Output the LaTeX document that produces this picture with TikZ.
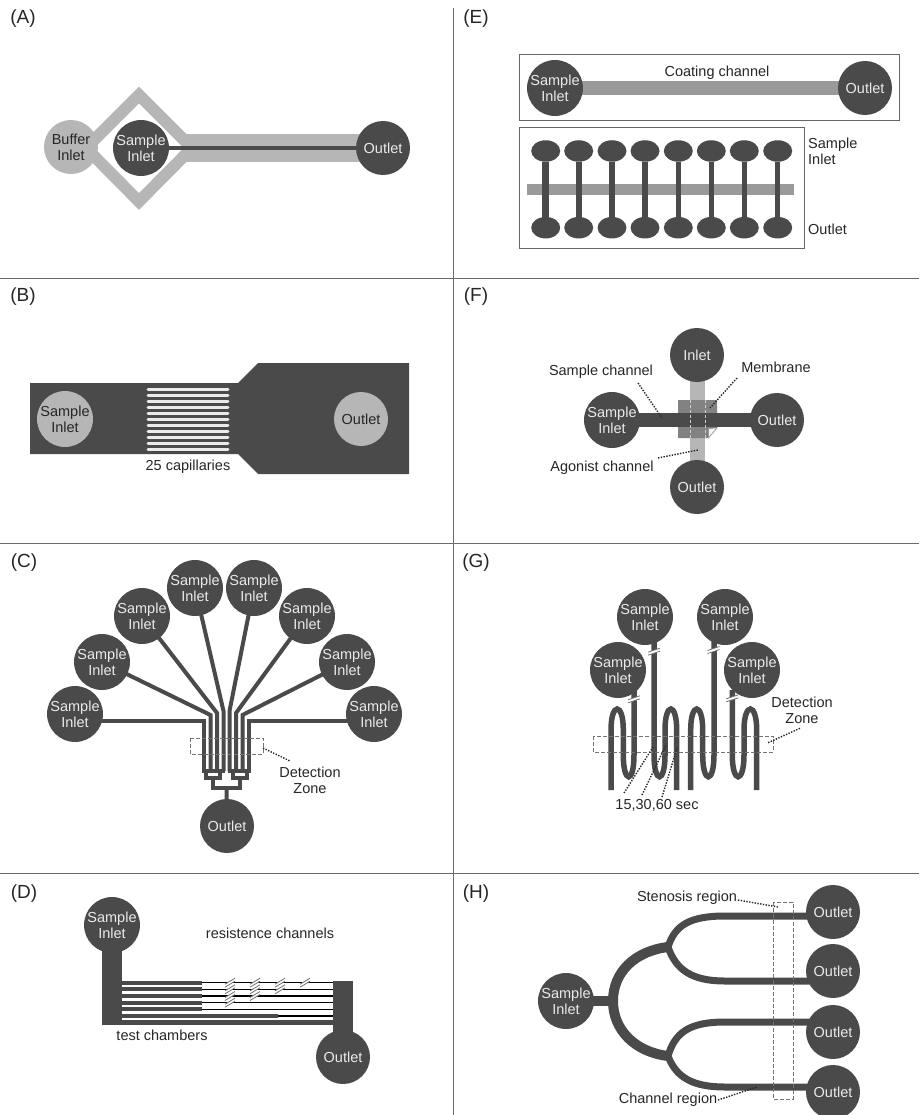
\documentclass[tikz,border=0pt]{standalone}
\usepackage{fontspec}
\setmainfont{Liberation Sans}
\usetikzlibrary{backgrounds,shapes.geometric}
\definecolor{chipdark}{HTML}{4A4A4A}
\definecolor{chiplight}{HTML}{B6B6B6}
\definecolor{chipmid}{HTML}{9A9A9A}
\definecolor{chipmemb}{HTML}{828282}
\definecolor{chiptext}{HTML}{EAEAEA}
\definecolor{rulegray}{HTML}{6A6A6A}
\tikzset{
  lab/.style={font=\fontsize{14.5}{16}\selectfont,text=black!85,align=center,inner sep=0pt},
  panel/.style={font=\fontsize{19}{21}\selectfont,text=black!85,inner sep=0pt},
  port/.style={circle,fill=chipdark,minimum size=54pt,inner sep=0pt,align=center,
    font=\fontsize{14.5}{16}\selectfont,text=chiptext},
  portlight/.style={port,fill=chiplight,text=black!85},
  bulb/.style={ellipse,fill=chipdark,minimum width=29pt,minimum height=21.5pt,inner sep=0pt},
  chan/.style={draw=chipdark,line width=#1},
  chan/.default=4pt,
  serp/.style={draw=chipdark,line width=5.5pt},
  band/.style={draw=#1,line width=14pt},
  zone/.style={draw=black!55,dashed,line width=.7pt,dash pattern=on 4pt off 2pt},
  leader/.style={draw=black!85,line width=1.4pt,dash pattern=on 1.4pt off 1.4pt},
  sep/.style={draw=rulegray,line width=.7pt},
  box/.style={draw=black!60,line width=.9pt},
  brk/.pic={
    \fill[white] (-5,1.5) -- (5,-4.5) -- (5,-1.5) -- (-5,4.5) -- cycle;
    \draw[black!55,line width=.8pt] (-5,1.5) -- (5,-4.5) (-5,4.5) -- (5,-1.5);
  },
  brkup/.pic={
    \fill[white] (-6,.5) -- (6,-3.5) -- (6,-.5) -- (-6,3.5) -- cycle;
    \draw[black!55,line width=.8pt] (-6,.5) -- (6,-3.5) (-6,3.5) -- (6,-.5);
  },
}
\begin{document}
\begin{tikzpicture}[x=1pt,y=-1pt]
\useasboundingbox (0,0) rectangle (919,1115);

\coordinate (ruleT) at (453,8);
\coordinate (ruleB) at (453,1115);
\foreach \y in {278,543,873} {
  \coordinate (ruleL) at (0,\y);
  \coordinate (ruleR) at (919,\y);
  \path[sep] (ruleL) edge (ruleR);
}
\path[sep] (ruleT) edge (ruleB);

\node[panel] (panA) at (23,19)  {(A)};
\node[panel] (panB) at (23,297) {(B)};
\node[panel] (panC) at (24,563) {(C)};
\node[panel] (panD) at (24,894) {(D)};
\node[panel] (panE) at (476,19)  {(E)};
\node[panel] (panF) at (476,297) {(F)};
\node[panel] (panG) at (476,563) {(G)};
\node[panel] (panH) at (476,894) {(H)};

% A
\node[portlight] (aBuf) at (71,147)  {Buffer\\Inlet};
\node[port]      (aSam) at (141,148) {Sample\\Inlet};
\node[port]      (aOut) at (383,148) {Outlet};
\coordinate (aTop) at (139,95);
\coordinate (aRig) at (192,148);
\coordinate (aBot) at (139,201.5);
\coordinate (aLef) at (86,148);
\coordinate (aJoin) at (186,148);
\begin{scope}[on background layer]
  \draw[draw=chiplight,line width=11.8pt] (aTop) -- (aRig) -- (aBot) -- (aLef) -- cycle;
  \path[band=chiplight,line width=28pt] (aJoin) edge (aOut.center);
  \path[chan=4.2pt] (aSam.center) edge (aOut.center);
\end{scope}

% B
\fill[chipdark] (30,383) -- (238,383) -- (258,363) -- (409,363) -- (409,474)
  -- (258,474) -- (238,454) -- (30,454) -- cycle;
\foreach \n in {0,...,10} {
  \draw[draw=black!8,line width=3pt,line cap=round] (148,389+6.07*\n) -- (228,389+6.07*\n);
}
\node[portlight] (bSam) at (65,419)  {Sample\\Inlet};
\node[portlight] (bOut) at (361,419) {Outlet};
\node[lab] (bCap) at (188,467) {25 capillaries};

% C
\node[port] (c1) at (75,714)  {Sample\\Inlet};
\node[port] (c2) at (102,662) {Sample\\Inlet};
\node[port] (c3) at (142,616) {Sample\\Inlet};
\node[port] (c4) at (195,588) {Sample\\Inlet};
\node[port] (c5) at (254,588) {Sample\\Inlet};
\node[port] (c6) at (307,616) {Sample\\Inlet};
\node[port] (c7) at (347,662) {Sample\\Inlet};
\node[port] (c8) at (374,714) {Sample\\Inlet};
\node[port] (cOut) at (227,826) {Outlet};
\node[lab] (cDet) at (310,780) {Detection\\Zone};
\begin{scope}[on background layer]
  \draw[chan] (c1.center) -- (75,721) -- (204,721) -- (204,771);
  \draw[chan] (c2.center) -- (210.5,715) -- (210.5,771);
  \draw[chan] (c3.center) -- (217,713) -- (217,771);
  \draw[chan] (c4.center) -- (223.5,711) -- (223.5,771);
  \draw[chan] (c5.center) -- (229.5,711) -- (229.5,771);
  \draw[chan] (c6.center) -- (236,713) -- (236,771);
  \draw[chan] (c7.center) -- (242.5,715) -- (242.5,771);
  \draw[chan] (c8.center) -- (374,721) -- (249,721) -- (249,771);
  \draw[chan] (202,771) -- (225,771);
  \draw[chan] (228,771) -- (251,771);
  \draw[chan] (206,771) -- (206,778) -- (220,778) -- (220,771);
  \draw[chan] (233,771) -- (233,778) -- (247,778) -- (247,771);
  \draw[chan] (213,778) -- (213,788) -- (240,788) -- (240,778);
  \path[chan] (226.5,788) edge (cOut.center);
\end{scope}
\draw[zone] (190,738) rectangle (263,754);
\coordinate (cLa) at (263,748);
\coordinate (cLb) at (290,761);
\path[leader] (cLa) edge (cLb);

% D
\node[port] (dSam) at (112,925)  {Sample\\Inlet};
\node[port] (dOut) at (343,1057) {Outlet};
\node[lab] (dRes) at (270,933)  {resistence channels};
\node[lab] (dTes) at (162,1035) {test chambers};
\begin{scope}[on background layer]
  \fill[chipdark] (102,925) rectangle (122,1025);
  \fill[chipdark] (333,981) rectangle (353,1057);
  \foreach \n in {0,...,4} {
    \draw[chan=4.2pt] (122,982.7+6.67*\n) -- (202,982.7+6.67*\n);
    \draw[draw=black,line width=1.4pt] (202,982.7+6.67*\n) -- (333,982.7+6.67*\n);
  }
  \draw[chan=4.2pt] (122,1016) -- (278,1016);
  \draw[draw=black,line width=1.4pt] (278,1016) -- (333,1016);
  \draw[chan=4.6pt] (122,1022.7) -- (333,1022.7);
\end{scope}
\foreach \x/\y in {230/982.7,230/989.3,230/996,230/1002.7,255/982.7,255/989.3,255/996,280/982.7,280/989.3,305/982.7} {
  \pic at (\x,\y) {brk};
}

% E
\draw[box] (519,54) rectangle (899,120);
\node[port] (eSam) at (555,88) {Sample\\Inlet};
\node[port] (eOut) at (865,88) {Outlet};
\node[lab] (eCoa) at (717,73) {Coating channel};
\begin{scope}[on background layer]
  \path[band=chipmid] (eSam.center) edge (eOut.center);
\end{scope}
\draw[box] (519,127) rectangle (804,248);
\coordinate (eBl) at (527,189.7);
\coordinate (eBr) at (794,189.7);
\path[band=chipmid,line width=11pt] (eBl) edge (eBr);
\foreach \i/\x/\w in {1/545.7/6.6,2/578.7/6.3,3/612/6,4/645/5.8,5/678.3/5.6,6/711.3/5.3,7/744.3/5,8/777.7/4.7} {
  \node[bulb] (eT\i) at (\x,151)   {};
  \node[bulb] (eD\i) at (\x,227.7) {};
  \path[chan=\w pt] (eT\i) edge (eD\i);
}
\node[lab,align=left,anchor=west] (eLs) at (808,151) {Sample\\Inlet};
\node[lab,anchor=west] (eLo) at (808,229) {Outlet};

% F
\node[port] (fIn)  at (697,355) {Inlet};
\node[port] (fSam) at (612,420) {Sample\\Inlet};
\node[port] (fOr)  at (777,420) {Outlet};
\node[port] (fOb)  at (697,487) {Outlet};
\node[lab] (fLs) at (601,372) {Sample channel};
\node[lab] (fLm) at (776,367) {Membrane};
\node[lab] (fLa) at (602,468) {Agonist channel};
\begin{scope}[on background layer]
  \path[band=chiplight,line width=15pt] (fIn.center) edge (fOb.center);
  \fill[chipmemb] (678,400) -- (717,400) -- (717,428) -- (708.5,438) -- (678,438) -- cycle;
  \filldraw[fill=black!5,draw=black!45,line width=.5pt] (717,428) -- (708.5,438) -- (708.5,428.5) -- cycle;
  \path[chan=14.5pt] (fSam.center) edge (fOr.center);
  \draw[draw=black!20,line width=.7pt,dash pattern=on 3pt off 2pt] (690,400) -- (690,438) (705,400) -- (705,438);
\end{scope}
\coordinate (fSa) at (638,383);
\coordinate (fSb) at (662,418);
\coordinate (fMa) at (737,378);
\coordinate (fMb) at (710,408);
\coordinate (fAa) at (658,458);
\coordinate (fAb) at (698,450);
\path[leader] (fSa) edge (fSb);
\path[leader] (fMa) edge (fMb);
\path[leader] (fAa) edge (fAb);

% G
\node[port] (g1) at (645,617) {Sample\\Inlet};
\node[port] (g2) at (725,617) {Sample\\Inlet};
\node[port] (g3) at (618,670) {Sample\\Inlet};
\node[port] (g4) at (752,670) {Sample\\Inlet};
\node[lab] (gDet) at (802,710) {Detection\\Zone};
\node[lab] (gSec) at (657,805) {15,30,60 sec};
\begin{scope}[on background layer]
  \draw[serp] (611,790) -- (611,730) .. controls (611,702) and (623.3,702) .. (623.3,730)
    -- (623.3,755) .. controls (623.3,784) and (634,784) .. (634,755) -- (634,690);
  \draw[serp] (654,640) -- (654,755) .. controls (654,784) and (665,784) .. (665,755)
    -- (665,730) .. controls (665,702) and (676.7,702) .. (676.7,730) -- (676.7,790);
  \draw[serp] (690.7,790) -- (690.7,730) .. controls (690.7,702) and (702.7,702) .. (702.7,730)
    -- (702.7,755) .. controls (702.7,784) and (714,784) .. (714,755) -- (714,640);
  \draw[serp] (732.3,690) -- (732.3,755) .. controls (732.3,784) and (744,784) .. (744,755)
    -- (744,730) .. controls (744,702) and (756.7,702) .. (756.7,730) -- (756.7,790);
\end{scope}
\foreach \x/\y in {634/699.3,654/651.7,713.5/650,732.3/698.3} {
  \pic at (\x,\y) {brkup};
}
\draw[zone] (593,736) rectangle (773,752);
\coordinate (gDa) at (800,728.3);
\coordinate (gDb) at (768,742.7);
\coordinate (g15a) at (624,793);
\coordinate (g15b) at (653,747);
\coordinate (g30a) at (642,795);
\coordinate (g30b) at (666,745);
\coordinate (g60a) at (662,797);
\coordinate (g60b) at (677,748);
\path[leader] (gDa) edge (gDb);
\path[leader] (g15a) edge (g15b);
\path[leader] (g30a) edge (g30b);
\path[leader] (g60a) edge (g60b);

% H
\node[port] (hSam) at (566,1001) {Sample\\Inlet};
\node[port] (hO1) at (833,912)  {Outlet};
\node[port] (hO2) at (833,971)  {Outlet};
\node[port] (hO3) at (833,1032) {Outlet};
\node[port] (hO4) at (833,1092) {Outlet};
\node[lab] (hSte) at (687,898)  {Stenosis region};
\node[lab] (hCha) at (668,1100) {Channel region};
\coordinate (hUp) at (668,947);
\coordinate (hLo) at (668,1056);
\begin{scope}[on background layer]
  \draw[chan=10pt] (hSam.center) -- (613,1001);
  \draw[chan=10pt] (hUp) .. controls (635,951) and (613,972) .. (613,1001)
    .. controls (613,1030) and (635,1052) .. (hLo);
  \draw[chan=7pt] (hUp) .. controls (675,925) and (690,916) .. (725,916) -- (hO1.center |- 725,916);
  \draw[chan=7pt] (hUp) .. controls (676,970) and (692,981) .. (725,981) -- (hO2.center |- 725,981);
  \draw[chan=7pt] (hLo) .. controls (675,1032) and (690,1022) .. (725,1022) -- (hO3.center |- 725,1022);
  \draw[chan=7pt] (hLo) .. controls (676,1077) and (692,1087) .. (725,1087) -- (hO4.center |- 725,1087);
\end{scope}
\draw[zone] (773,902) rectangle (793,1099);
\coordinate (hSa) at (738,900);
\coordinate (hSb) at (778,907);
\coordinate (hCa) at (718,1100);
\coordinate (hCb) at (757,1087);
\path[leader] (hSa) edge (hSb);
\path[leader] (hCa) edge (hCb);
\end{tikzpicture}
\end{document}
